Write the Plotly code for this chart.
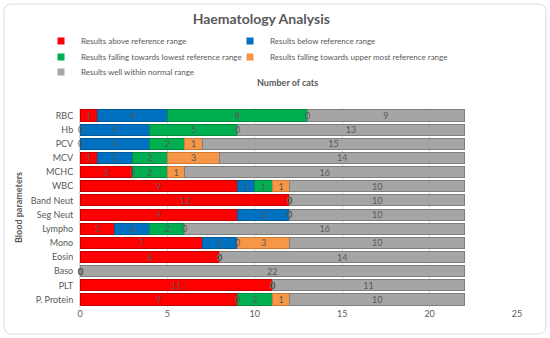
import plotly.graph_objects as go

categories = ["RBC", "Hb", "PCV", "MCV", "MCHC", "WBC", "Band Neut", "Seg Neut",
              "Lympho", "Mono", "Eosin", "Baso", "PLT", "P. Protein"]
above = [1, 0, 0, 1, 3, 9, 12, 9, 2, 7, 8, 0, 11, 9]
below = [4, 4, 4, 2, 0, 1, 0, 3, 2, 2, 0, 0, 0, 0]
low_edge = [8, 5, 2, 2, 2, 1, 0, 0, 2, 0, 0, 0, 0, 2]
upper_edge = [0, 0, 1, 3, 1, 1, 0, 0, 0, 3, 0, 0, 0, 1]
normal = [9, 13, 15, 14, 16, 10, 10, 10, 16, 10, 14, 22, 11, 10]

series = [
    ("Results above reference range", above, "#FF0000", "#C00000"),
    ("Results below reference range", below, "#0070C0", "#005A9A"),
    ("Results falling towards lowest reference range", low_edge, "#00B050", "#008A3E"),
    ("Results falling towards upper most reference range", upper_edge, "#F79646", "#D07A35"),
    ("Results well within normal range", normal, "#A5A5A5", "#7F7F7F"),
]
x_ticks = [0, 5, 10, 15, 20, 25]

FONT = "Lato, 'Open Sans', sans-serif"
GREY = "#595959"

# plot area in pixels
L, R, T, B = 80, 517, 108, 307
PW, PH = R - L, B - T


def px_x(px):
    return (px - L) / PW


def px_y(py):
    return (B - py) / PH


# legend slots (left edge of entry, row centre) – one legend per entry
leg_pos = [(41, 41), (230, 41), (41, 57), (230, 57), (41, 72)]
leg_ids = ["legend", "legend2", "legend3", "legend4", "legend5"]

fig = go.Figure()
for (name, vals, col, edge), lid in zip(series, leg_ids):
    fig.add_trace(go.Bar(
        y=categories, x=vals, name=name, orientation="h",
        legendgroup=name, showlegend=False,
        marker=dict(color=col, line=dict(color=edge, width=1)),
        text=[str(v) if v else "" for v in vals],
        textposition="inside", insidetextanchor="middle", textangle=0,
        textfont=dict(color=GREY, size=9, family=FONT),
    ))
    fig.add_trace(go.Scatter(
        x=[None], y=[None], mode="markers", name=name, legendgroup=name,
        legend=lid, showlegend=True,
        marker=dict(symbol="square", size=7, color=col),
    ))

# zero labels, placed at cumulative positions
annotations = []
cum = [0] * len(categories)
for name, vals, col, edge in series:
    for i, v in enumerate(vals):
        if v == 0:
            annotations.append(dict(x=cum[i], y=categories[i], xref="x", yref="y",
                                    text="0", showarrow=False,
                                    font=dict(color=GREY, size=9, family=FONT)))
        cum[i] += v

annotations.append(dict(x=px_x(287), y=px_y(82), xref="paper", yref="paper",
                        yanchor="middle", text="<b>Number of cats</b>", showarrow=False,
                        font=dict(color=GREY, size=9, family=FONT)))

legends = {}
for lid, (lx, ly) in zip(leg_ids, leg_pos):
    legends[lid] = dict(orientation="h", xanchor="left", yanchor="middle",
                        x=px_x(lx), y=px_y(ly), itemwidth=30,
                        bgcolor="rgba(0,0,0,0)",
                        font=dict(size=8, color=GREY, family=FONT))

fig.update_layout(
    width=550, height=338,
    paper_bgcolor="white", plot_bgcolor="white",
    barmode="stack", bargap=0.22,
    margin=dict(l=L, r=550 - R, t=T, b=338 - B, autoexpand=False),
    uniformtext=dict(minsize=9, mode="show"),
    title=dict(text="<b>Haematology Analysis</b>", x=0.475, xanchor="center",
               y=1 - 19 / 338, yanchor="middle",
               font=dict(size=14, color=GREY, family=FONT)),
    xaxis=dict(range=[0, 25], tickvals=x_ticks, showgrid=True, gridcolor="#D9D9D9",
               zeroline=False, showline=False, automargin=False,
               tickfont=dict(size=9, color=GREY, family=FONT)),
    yaxis=dict(autorange="reversed", showline=True, linecolor="#D9D9D9",
               ticks="", ticklabelstandoff=4, automargin=False,
               tickfont=dict(size=9, color=GREY, family=FONT),
               title=dict(text="<b>Blood parameters</b>", standoff=6,
                          font=dict(size=9, color=GREY, family=FONT))),
    annotations=annotations,
    showlegend=True,
    **legends,
)

# rounded chart border
x0, x1 = px_x(4), px_x(546)
y0, y1 = px_y(334), px_y(4)
rx, ry = 8 / PW, 8 / PH
path = (f"M {x0+rx},{y0} L {x1-rx},{y0} Q {x1},{y0} {x1},{y0+ry} "
        f"L {x1},{y1-ry} Q {x1},{y1} {x1-rx},{y1} L {x0+rx},{y1} "
        f"Q {x0},{y1} {x0},{y1-ry} L {x0},{y0+ry} Q {x0},{y0} {x0+rx},{y0} Z")
fig.add_shape(type="path", path=path, xref="paper", yref="paper",
              line=dict(color="#D9D9D9", width=1), layer="below")

fig.write_html("out.html", config={"displayModeBar": False},
               post_script="document.body.style.margin='0';")
